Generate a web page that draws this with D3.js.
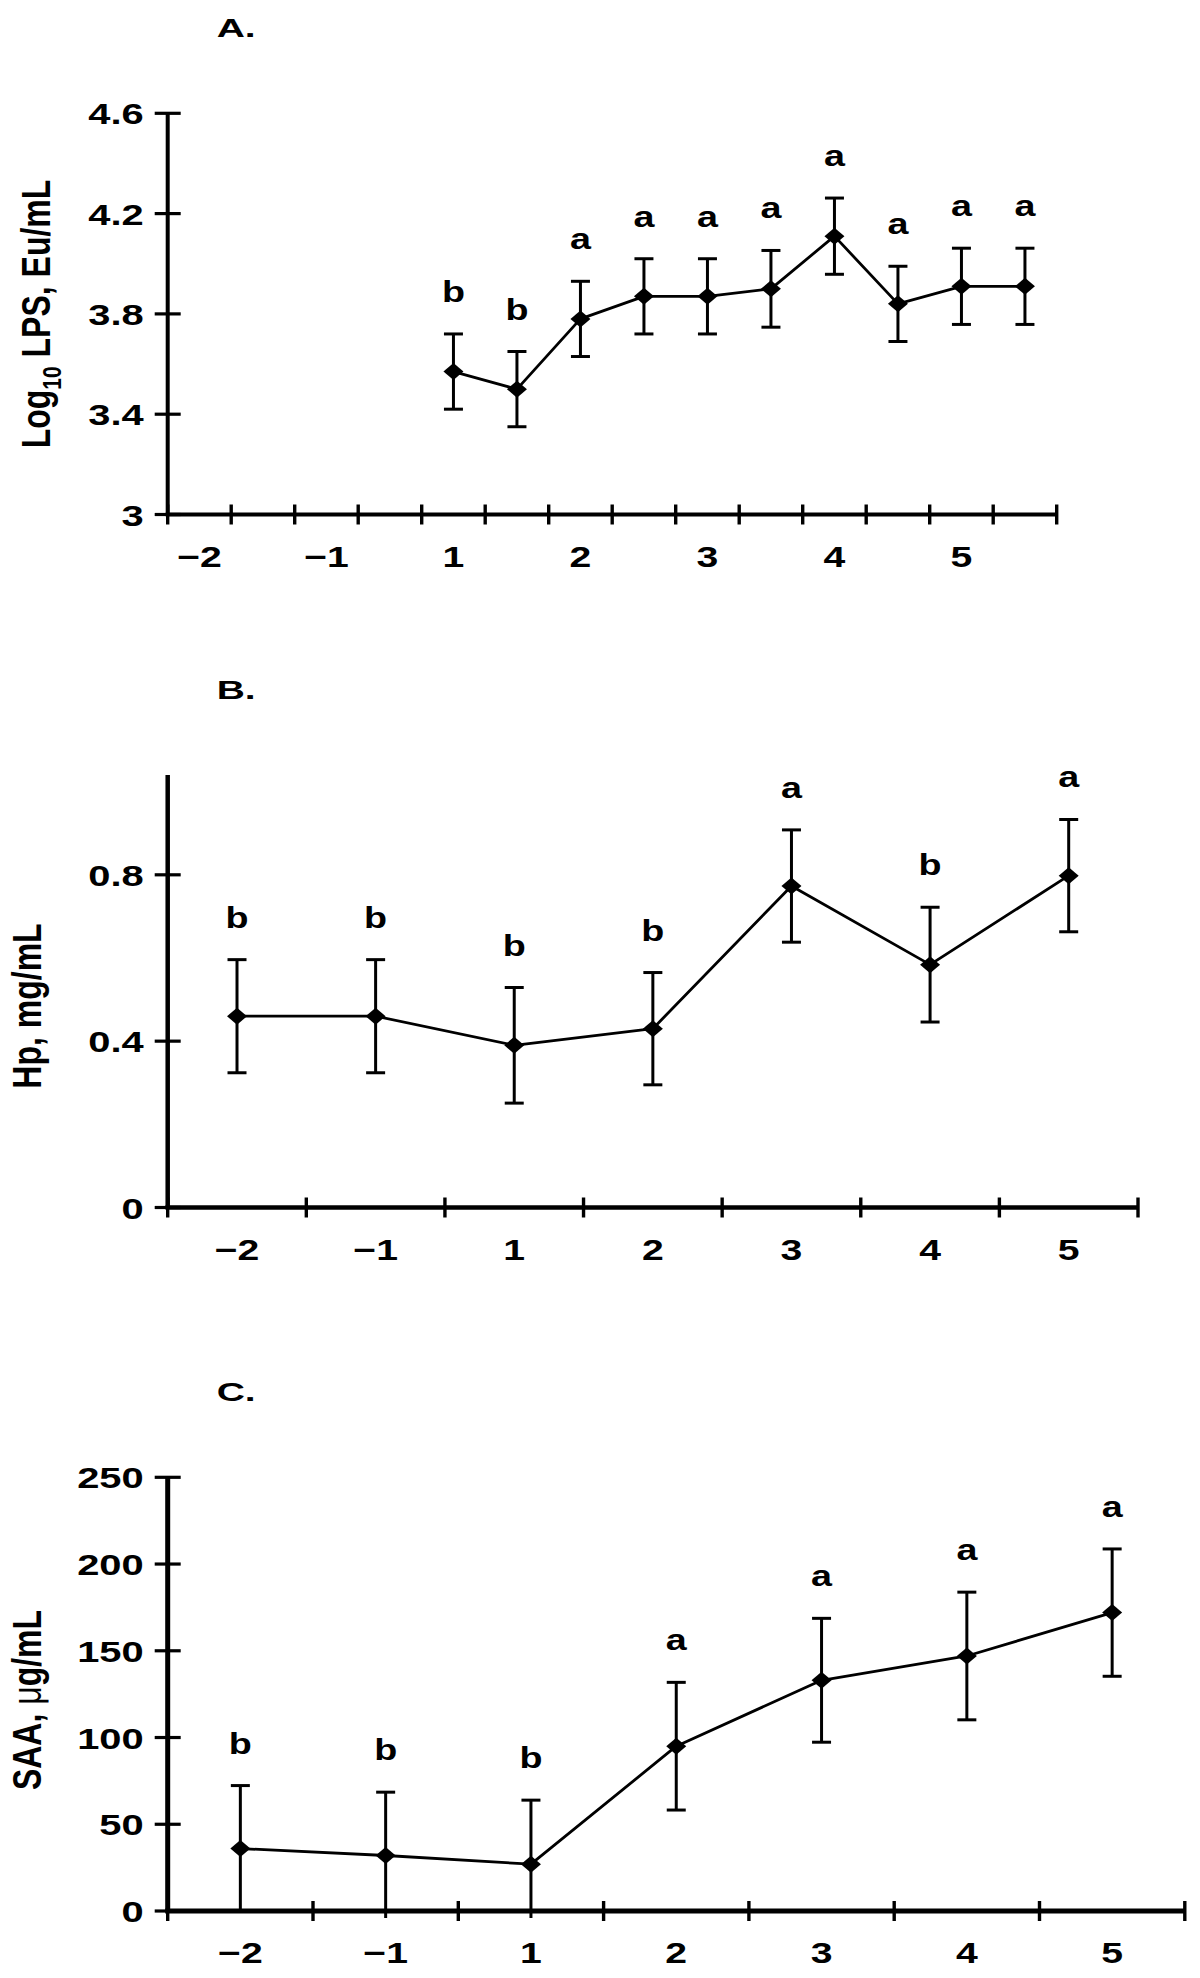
<!DOCTYPE html>
<html><head><meta charset="utf-8">
<script src="https://cdn.jsdelivr.net/npm/d3@7"></script>
<style>html,body{margin:0;padding:0;background:#fff;} svg{display:block;}</style>
</head><body><div id="chart"></div>
<script>
// ---------- Panel A: Log10 LPS ----------
const lpsSlots = ["-2","-1.5","-1","-0.5","1","1.5","2","2.5","3","3.5","4","4.5","5","5.5"];
const lpsDays = ["1","1.5","2","2.5","3","3.5","4","4.5","5","5.5"];
const lpsMean = [3.57, 3.50, 3.78, 3.87, 3.87, 3.90, 4.11, 3.84, 3.91, 3.91];
const lpsSE = [0.15, 0.15, 0.15, 0.15, 0.15, 0.153, 0.152, 0.15, 0.152, 0.152];
const lpsLetters = ["b","b","a","a","a","a","a","a","a","a"];
const lpsTickDays = ["-2","-1","1","2","3","4","5"];
const lpsYTicks = [3, 3.4, 3.8, 4.2, 4.6];
const lpsYLabels = ["3","3.4","3.8","4.2","4.6"];

// ---------- Panel B: Hp ----------
const hpSlots = ["-2","-1","1","2","3","4","5"];
const hpDays = ["-2","-1","1","2","3","4","5"];
const hpMean = [0.46, 0.46, 0.39, 0.43, 0.773, 0.584, 0.798];
const hpSE = [0.136, 0.136, 0.139, 0.135, 0.135, 0.138, 0.135];
const hpLetters = ["b","b","b","b","a","b","a"];
const hpYTicks = [0, 0.4, 0.8];
const hpYLabels = ["0","0.4","0.8"];

// ---------- Panel C: SAA ----------
const saaSlots = ["-2","-1","1","2","3","4","5"];
const saaDays = ["-2","-1","1","2","3","4","5"];
const saaMean = [36, 32, 27, 95, 133, 147, 172];
const saaSE = [36.3, 36.5, 36.9, 36.8, 35.7, 36.8, 36.7];
const saaLetters = ["b","b","b","a","a","a","a"];
const saaYTicks = [0, 50, 100, 150, 200, 250];
const saaYLabels = ["0","50","100","150","200","250"];

// shared x tick text
const dayTickKeys = ["-2","-1","1","2","3","4","5"];
const dayTickText = ["\u22122","\u22121","1","2","3","4","5"];

const W = 1200, H = 1978;
const FONT = "'Liberation Sans', Arial, Helvetica, sans-serif";
const svg = d3.select("#chart").append("svg")
  .attr("width", W).attr("height", H).style("background", "#fff");
svg.append("rect").attr("width", W).attr("height", H).attr("fill", "#fff");

function sText(g, x, y, str, o) {
  return g.append("text")
    .attr("transform", `translate(${x},${y}) scale(${o.k || 1},1)`)
    .attr("text-anchor", o.anchor || "middle")
    .attr("font-family", FONT)
    .attr("font-weight", o.weight || "bold")
    .attr("font-size", o.size)
    .attr("fill", "#000")
    .text(str);
}

function panel(cfg) {
  const g = svg.append("g");
  const x = d3.scaleBand().domain(cfg.slots).range([cfg.left, cfg.right]).paddingInner(0).paddingOuter(0);
  const y = d3.scaleLinear().domain(cfg.yDomain).range([cfg.yBottom, cfg.yTop]);
  const bw = x.bandwidth();
  const cx = d => x(d) + bw / 2;
  const axisY = y(cfg.yDomain[0]);
  const aw = cfg.axisWidth;

  // panel title
  sText(g, cfg.left + 49, cfg.yTop - 76, cfg.title, {size: 26, k: 1.5, anchor: "start"});

  // y-axis title (rotated, stretched perpendicular to baseline)
  const yt = g.append("text")
    .attr("transform", `translate(${cfg.ytX},${cfg.ytY}) scale(1.25,1) rotate(-90)`)
    .attr("text-anchor", "middle")
    .attr("font-family", FONT).attr("font-weight", "bold")
    .attr("font-size", 32).attr("fill", "#000");
  cfg.yTitle(yt);

  // y axis line
  g.append("line")
    .attr("x1", cfg.left).attr("x2", cfg.left)
    .attr("y1", y(cfg.yDomain[1])).attr("y2", axisY)
    .attr("stroke", "#000").attr("stroke-width", aw);
  // y ticks (crossing)
  g.selectAll(".yt").data(cfg.yTicks).enter().append("line")
    .attr("x1", cfg.left - 13).attr("x2", cfg.left + 13)
    .attr("y1", d => y(d)).attr("y2", d => y(d))
    .attr("stroke", "#000").attr("stroke-width", 3.2);
  cfg.yTicks.forEach((v, i) => {
    sText(g, cfg.left - 24, y(v) + 11, cfg.yLabels[i], {size: 30, k: 1.33, anchor: "end"});
  });

  // x axis line
  g.append("line")
    .attr("x1", cfg.left - aw / 2).attr("x2", cfg.right)
    .attr("y1", axisY).attr("y2", axisY)
    .attr("stroke", "#000").attr("stroke-width", aw);
  // x ticks at band boundaries
  const bounds = cfg.slots.map(s => x(s)).concat([cfg.right]);
  g.selectAll(".xt").data(bounds).enter().append("line")
    .attr("x1", d => d).attr("x2", d => d)
    .attr("y1", axisY - 10).attr("y2", axisY + 10)
    .attr("stroke", "#000").attr("stroke-width", 3.4);
  dayTickKeys.forEach((k, i) => {
    if (cfg.slots.indexOf(k) >= 0) {
      sText(g, cx(k), axisY + 52, dayTickText[i], {size: 29, k: 1.35, anchor: "middle"});
    }
  });

  // error bars
  const clipY = axisY + 7;
  cfg.days.forEach((d, i) => {
    const m = cfg.mean[i], se = cfg.se[i];
    const xc = cx(d);
    const yTop = y(m + se);
    let yBot = y(m - se);
    const clipped = yBot > clipY;
    if (clipped) yBot = clipY;
    g.append("line").attr("x1", xc).attr("x2", xc).attr("y1", yTop).attr("y2", yBot)
      .attr("stroke", "#000").attr("stroke-width", 3);
    g.append("line").attr("x1", xc - 9.5).attr("x2", xc + 9.5).attr("y1", yTop).attr("y2", yTop)
      .attr("stroke", "#000").attr("stroke-width", 3);
    if (!clipped) {
      g.append("line").attr("x1", xc - 9.5).attr("x2", xc + 9.5).attr("y1", yBot).attr("y2", yBot)
        .attr("stroke", "#000").attr("stroke-width", 3);
    }
    sText(g, xc, yTop - 32, cfg.letters[i], {size: 29, k: 1.3, anchor: "middle"});
  });

  // connecting line
  const line = d3.line().x((d, i) => cx(cfg.days[i])).y(d => y(d));
  g.append("path").datum(cfg.mean).attr("d", line)
    .attr("fill", "none").attr("stroke", "#000").attr("stroke-width", 2.8)
    .attr("stroke-linejoin", "round");

  // diamond markers
  g.selectAll(".pt").data(cfg.mean).enter().append("path")
    .attr("transform", (d, i) => `translate(${cx(cfg.days[i])},${y(d)})`)
    .attr("d", "M0,-8.5L10,0L0,8.5L-10,0Z")
    .attr("fill", "#000");
}

panel({
  title: "A.",
  slots: lpsSlots, days: lpsDays, mean: lpsMean, se: lpsSE, letters: lpsLetters,
  yTicks: lpsYTicks, yLabels: lpsYLabels,
  left: 167.7, right: 1056.7, yDomain: [3, 4.6], yBottom: 514.5, yTop: 113.3,
  axisWidth: 4,
  ytX: 50, ytY: 314,
  yTitle: t => {
    t.append("tspan").text("Log");
    t.append("tspan").attr("font-size", 21).attr("dy", 9).text("10");
    t.append("tspan").attr("dy", -9).text(" LPS, Eu/mL");
  }
});

panel({
  title: "B.",
  slots: hpSlots, days: hpDays, mean: hpMean, se: hpSE, letters: hpLetters,
  yTicks: hpYTicks, yLabels: hpYLabels,
  left: 167.7, right: 1138, yDomain: [0, 1.04], yBottom: 1207.5, yTop: 775,
  axisWidth: 4.5,
  ytX: 41, ytY: 1006,
  yTitle: t => { t.text("Hp, mg/mL"); }
});

panel({
  title: "C.",
  slots: saaSlots, days: saaDays, mean: saaMean, se: saaSE, letters: saaLetters,
  yTicks: saaYTicks, yLabels: saaYLabels,
  left: 167.7, right: 1184.8, yDomain: [0, 250], yBottom: 1911, yTop: 1477.3,
  axisWidth: 5,
  ytX: 41, ytY: 1700,
  yTitle: t => {
    t.append("tspan").text("SAA, ");
    t.append("tspan").attr("font-weight", "normal").text("\u03BC");
    t.append("tspan").text("g/mL");
  }
});
</script>
</body></html>
